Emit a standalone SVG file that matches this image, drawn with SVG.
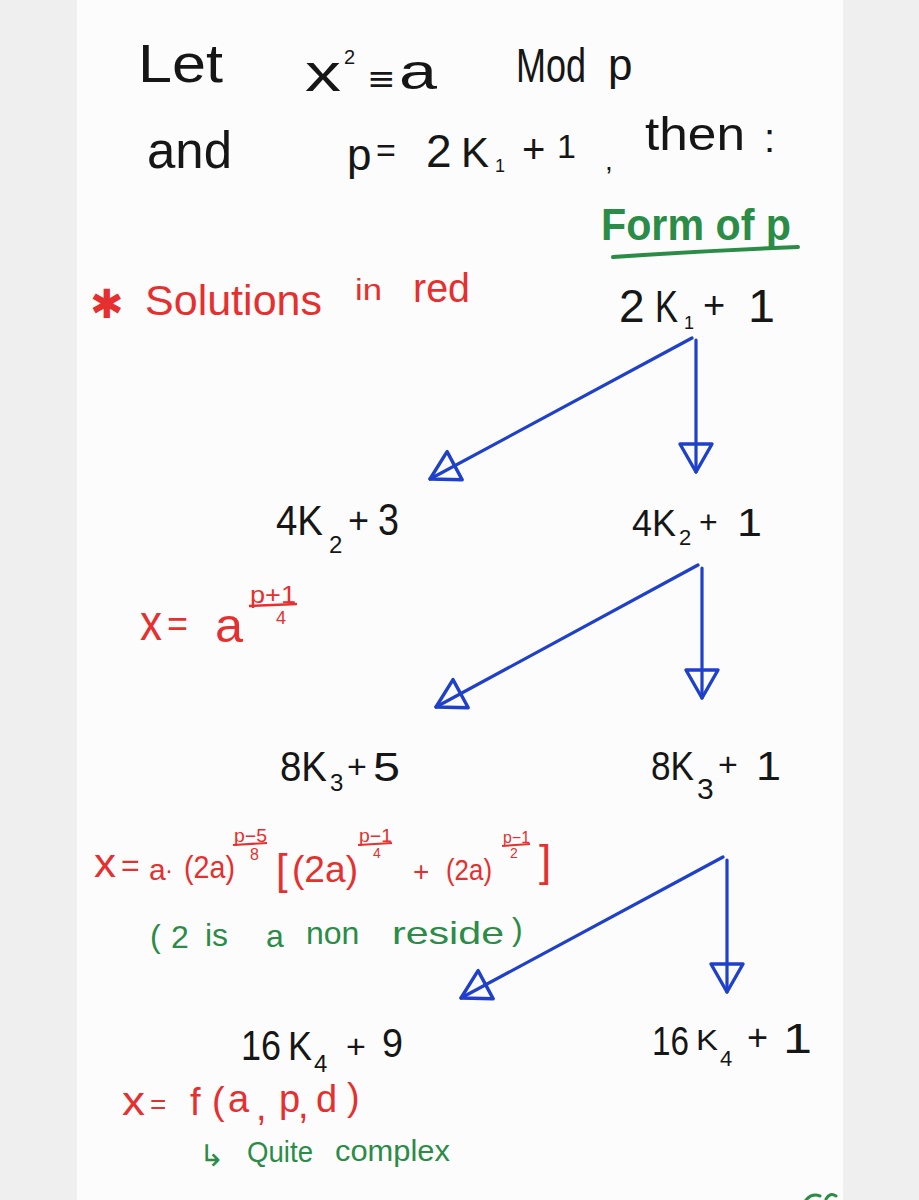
<svg xmlns="http://www.w3.org/2000/svg" width="919" height="1200" viewBox="0 0 919 1200">
<style>
  text { font-family: "Liberation Sans", "DejaVu Sans", sans-serif; }
  .blk { fill: #161616; }
  .red { fill: #e5302f; }
  .grn { fill: #2b8c47; }
  .sym { font-family: "DejaVu Sans", sans-serif; }
  .conn { stroke: #1f40c8; stroke-width: 3.2; fill: none; stroke-linecap: round; marker-end: url(#open); }
</style>
<defs>
  <marker id="open" markerUnits="userSpaceOnUse" viewBox="-34 -20 38 40" markerWidth="38" markerHeight="40" refX="0" refY="0" orient="auto" overflow="visible">
    <path d="M0,0 L-28,-16 L-28,16 Z" fill="none" stroke="#1f40c8" stroke-width="3.4" stroke-linejoin="round"/>
  </marker>
</defs>
<rect x="0" y="0" width="919" height="1200" fill="#efefef"/>
<rect x="77" y="0" width="766" height="1200" fill="#fcfcfc"/>

<g id="header">
  <text class="blk" x="138" y="82" font-size="54" textLength="85" lengthAdjust="spacingAndGlyphs">Let</text>
  <text class="blk" x="305" y="91" font-size="54" textLength="36" lengthAdjust="spacingAndGlyphs">x</text>
  <text class="blk" x="344" y="64" font-size="20">2</text>
  <text class="blk sym" x="367" y="90" font-size="34">≡</text>
  <text class="blk" x="399" y="89" font-size="50" textLength="38" lengthAdjust="spacingAndGlyphs">a</text>
  <text class="blk" x="516" y="82" font-size="48" textLength="70" lengthAdjust="spacingAndGlyphs">Mod</text>
  <text class="blk" x="608" y="80" font-size="44">p</text>

  <text class="blk" x="147" y="168" font-size="52" textLength="85" lengthAdjust="spacingAndGlyphs">and</text>
  <text class="blk" x="347" y="170" font-size="44">p</text>
  <text class="blk" x="376" y="162" font-size="34">=</text>
  <text class="blk" x="426" y="167" font-size="46">2</text>
  <text class="blk" x="461" y="167" font-size="42">K</text>
  <text class="blk" x="495" y="172" font-size="18">1</text>
  <text class="blk" x="522" y="163" font-size="40">+</text>
  <text class="blk" x="557" y="158" font-size="34">1</text>
  <text class="blk" x="605" y="170" font-size="28">,</text>
  <text class="blk" x="645" y="150" font-size="46" textLength="100" lengthAdjust="spacingAndGlyphs">then</text>
  <text class="blk" x="764" y="152" font-size="40">:</text>

  <text class="grn" x="601" y="240" font-size="44" font-weight="bold" textLength="190" lengthAdjust="spacingAndGlyphs">Form of p</text>
  <path d="M613,257 Q700,251 798,247" fill="none" stroke="#2b8c47" stroke-width="4" stroke-linecap="round"/>
</g>

<g id="legend">
  <text class="red sym" x="90" y="318" font-size="40">✱</text>
  <text class="red" x="145" y="315" font-size="42" textLength="177" lengthAdjust="spacingAndGlyphs">Solutions</text>
  <text class="red" x="355" y="300" font-size="30" textLength="27" lengthAdjust="spacingAndGlyphs">in</text>
  <text class="red" x="413" y="302" font-size="40" textLength="57" lengthAdjust="spacingAndGlyphs">red</text>
</g>

<g id="node-2k1">
  <text class="blk" x="619" y="322" font-size="46">2</text>
  <text class="blk" x="655" y="322" font-size="44" textLength="23" lengthAdjust="spacingAndGlyphs">K</text>
  <text class="blk" x="684" y="329" font-size="18">1</text>
  <text class="blk" x="703" y="318" font-size="38">+</text>
  <text class="blk" x="748" y="322" font-size="46" textLength="27" lengthAdjust="spacingAndGlyphs">1</text>
</g>

<g id="node-4k2-3">
  <text class="blk" x="276" y="535" font-size="42" textLength="47" lengthAdjust="spacingAndGlyphs">4K</text>
  <text class="blk" x="329" y="553" font-size="24">2</text>
  <text class="blk" x="348" y="533" font-size="36">+</text>
  <text class="blk" x="378" y="535" font-size="44" textLength="21" lengthAdjust="spacingAndGlyphs">3</text>
</g>

<g id="node-4k2-1">
  <text class="blk" x="632" y="536" font-size="36" textLength="44" lengthAdjust="spacingAndGlyphs">4K</text>
  <text class="blk" x="679" y="545" font-size="22">2</text>
  <text class="blk" x="699" y="533" font-size="32">+</text>
  <text class="blk" x="737" y="536" font-size="38" textLength="25" lengthAdjust="spacingAndGlyphs">1</text>
</g>

<g id="sol-4k2-3">
  <text class="red" x="140" y="640" font-size="50" textLength="22" lengthAdjust="spacingAndGlyphs">x</text>
  <text class="red" x="167" y="636" font-size="36">=</text>
  <text class="red" x="215" y="642" font-size="48" textLength="28" lengthAdjust="spacingAndGlyphs">a</text>
  <text class="red" x="250" y="603" font-size="24" textLength="46" lengthAdjust="spacingAndGlyphs">p+1</text>
  <path d="M249,606 L297,604" fill="none" stroke="#e5302f" stroke-width="2.5"/>
  <text class="red" x="276" y="624" font-size="18">4</text>
</g>

<g id="node-8k3-5">
  <text class="blk" x="280" y="781" font-size="42" textLength="47" lengthAdjust="spacingAndGlyphs">8K</text>
  <text class="blk" x="330" y="791" font-size="24">3</text>
  <text class="blk" x="347" y="778" font-size="34">+</text>
  <text class="blk" x="373" y="781" font-size="40" textLength="27" lengthAdjust="spacingAndGlyphs">5</text>
</g>

<g id="node-8k3-1">
  <text class="blk" x="651" y="780" font-size="40" textLength="43" lengthAdjust="spacingAndGlyphs">8K</text>
  <text class="blk" x="697" y="799" font-size="30">3</text>
  <text class="blk" x="718" y="776" font-size="34">+</text>
  <text class="blk" x="756" y="780" font-size="40" textLength="25" lengthAdjust="spacingAndGlyphs">1</text>
</g>

<g id="sol-8k3-5">
  <text class="red" x="94" y="877" font-size="40" textLength="22" lengthAdjust="spacingAndGlyphs">x</text>
  <text class="red" x="121" y="876" font-size="32">=</text>
  <text class="red" x="149" y="880" font-size="30">a</text>
  <text class="red" x="165" y="878" font-size="24">·</text>
  <text class="red" x="184" y="878" font-size="32" textLength="51" lengthAdjust="spacingAndGlyphs">(2a)</text>
  <text class="red" x="234" y="842" font-size="18" textLength="33" lengthAdjust="spacingAndGlyphs">p−5</text>
  <path d="M233,845 L267,843" fill="none" stroke="#e5302f" stroke-width="2.2"/>
  <text class="red" x="250" y="860" font-size="16">8</text>
  <text class="red" x="276" y="884" font-size="42">[</text>
  <text class="red" x="292" y="882" font-size="36" textLength="66" lengthAdjust="spacingAndGlyphs">(2a)</text>
  <text class="red" x="359" y="842" font-size="18" textLength="33" lengthAdjust="spacingAndGlyphs">p−1</text>
  <path d="M358,845 L392,843" fill="none" stroke="#e5302f" stroke-width="2.2"/>
  <text class="red" x="373" y="858" font-size="14">4</text>
  <text class="red" x="413" y="881" font-size="28">+</text>
  <text class="red" x="446" y="880" font-size="30" textLength="46" lengthAdjust="spacingAndGlyphs">(2a)</text>
  <text class="red" x="503" y="843" font-size="16" textLength="27" lengthAdjust="spacingAndGlyphs">p−1</text>
  <path d="M502,846 L530,844" fill="none" stroke="#e5302f" stroke-width="2"/>
  <text class="red" x="510" y="858" font-size="14">2</text>
  <text class="red" x="539" y="876" font-size="44">]</text>
</g>

<g id="note-nonres">
  <text class="grn" font-size="32">
    <tspan x="150" y="947">(</tspan><tspan x="171" y="948">2</tspan><tspan x="205" y="946">is</tspan><tspan x="266" y="947">a</tspan><tspan x="306" y="944">non</tspan><tspan x="392" y="944" textLength="112" lengthAdjust="spacingAndGlyphs">reside</tspan><tspan x="512" y="940">)</tspan>
  </text>
</g>

<g id="node-16k4-9">
  <text class="blk" x="241" y="1060" font-size="42" textLength="40" lengthAdjust="spacingAndGlyphs">16</text>
  <text class="blk" x="288" y="1060" font-size="40" textLength="24" lengthAdjust="spacingAndGlyphs">K</text>
  <text class="blk" x="314" y="1072" font-size="24">4</text>
  <text class="blk" x="346" y="1058" font-size="34">+</text>
  <text class="blk" x="382" y="1057" font-size="40" textLength="21" lengthAdjust="spacingAndGlyphs">9</text>
</g>

<g id="node-16k4-1">
  <text class="blk" x="652" y="1055" font-size="40" textLength="37" lengthAdjust="spacingAndGlyphs">16</text>
  <text class="blk" x="696" y="1050" font-size="30" textLength="22" lengthAdjust="spacingAndGlyphs">K</text>
  <text class="blk" x="720" y="1066" font-size="22">4</text>
  <text class="blk" x="747" y="1050" font-size="36">+</text>
  <text class="blk" x="783" y="1053" font-size="42" textLength="29" lengthAdjust="spacingAndGlyphs">1</text>
</g>

<g id="sol-16k4-9">
  <text class="red" x="122" y="1115" font-size="40" textLength="23" lengthAdjust="spacingAndGlyphs">x</text>
  <text class="red" x="150" y="1114" font-size="28">=</text>
  <text class="red" font-size="38">
    <tspan x="190" y="1115">f</tspan><tspan x="212" y="1114">(</tspan><tspan x="228" y="1112">a</tspan><tspan x="256" y="1120">,</tspan><tspan x="279" y="1112">p</tspan><tspan x="298" y="1118">,</tspan><tspan x="316" y="1112">d</tspan><tspan x="347" y="1110">)</tspan>
  </text>
  <text class="grn sym" x="199" y="1166" font-size="30">↳</text>
  <text class="grn" x="247" y="1162" font-size="30" textLength="66" lengthAdjust="spacingAndGlyphs">Quite</text>
  <text class="grn" x="335" y="1161" font-size="30" textLength="115" lengthAdjust="spacingAndGlyphs">complex</text>
</g>

<g id="connectors">
  <line class="conn" x1="692" y1="338" x2="430" y2="479"/>
  <line class="conn" x1="696" y1="340" x2="696" y2="472"/>
  <line class="conn" x1="698" y1="565" x2="436" y2="707"/>
  <line class="conn" x1="702" y1="568" x2="702" y2="698"/>
  <line class="conn" x1="723" y1="857" x2="461" y2="998"/>
  <line class="conn" x1="727" y1="860" x2="727" y2="992"/>
</g>

<path d="M806,1200 Q812,1193 820,1196 M826,1199 Q830,1192 836,1196" fill="none" stroke="#2b8c47" stroke-width="3" stroke-linecap="round"/>
</svg>
